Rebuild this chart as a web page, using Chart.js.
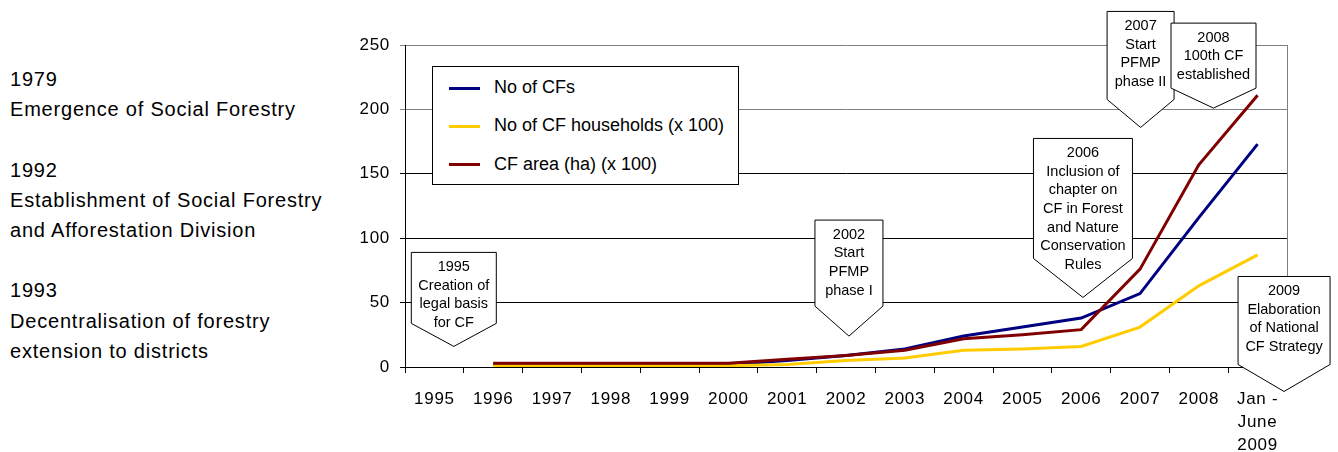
<!DOCTYPE html>
<html lang="en">
<head>
    <meta charset="UTF-8">
    <title>Community Forestry development</title>
    <script src="https://cdn.jsdelivr.net/npm/chart.js"></script>
    <style>
        body {
            margin: 0;
            width: 1338px;
            height: 452px;
            position: relative;
            background: #fff;
            font-family: "Liberation Sans", Arial, sans-serif;
            color: #000;
            overflow: hidden;
        }
        #chart {
            position: absolute;
            left: 0;
            top: 0;
        }
        #history {
            position: absolute;
            left: 10px;
            top: 64px;
            font-size: 20px;
            line-height: 30.2px;
            letter-spacing: 0.8px;
        }
        #legend {
            position: absolute;
            left: 432px;
            top: 66px;
            width: 305px;
            height: 116px;
            border: 1px solid #000;
            background: #fff;
            padding-top: 1px;
            font-size: 18px;
        }
        #legend .row {
            height: 38.3px;
            line-height: 38.3px;
            white-space: nowrap;
        }
        #legend .swatch {
            display: inline-block;
            width: 31px;
            height: 3px;
            margin-left: 16px;
            margin-right: 14px;
            vertical-align: middle;
        }
    </style>
</head>
<body>
    <div id="history">
        1979<br>Emergence of Social Forestry<br><br>
        1992<br>Establishment of Social Forestry<br>and Afforestation Division<br><br>
        1993<br>Decentralisation of forestry<br>extension to districts
    </div>
    <canvas id="chart" width="1338" height="452"></canvas>
    <div id="legend"></div>

    <script>
        // data
        const yearLabels = ['1995', '1996', '1997', '1998', '1999', '2000', '2001', '2002',
            '2003', '2004', '2005', '2006', '2007', '2008', ['Jan -', 'June', '2009']];
        const cfCount      = [null, 2, 2, 2, 2, 2, 5, 9, 14, 24, 31, 38, 57, 116, 173];
        const cfHouseholds = [null, 1, 1, 1, 1, 1, 2, 5, 7, 13, 14, 16, 31, 63, 87];
        const cfArea       = [null, 3, 3, 3, 3, 3, 6, 9, 13, 22, 25, 29, 76, 157, 211];

        const seriesNames  = ['No of CFs', 'No of CF households (x 100)', 'CF area (ha) (x 100)'];
        const seriesColors = ['#000080', '#FFCC00', '#800000'];

        const yMin = 0, yMax = 250, yStep = 50;

        // event callouts: x = category index, y = value where the arrow points
        const callouts = [
            { x: 0.33, y: 16, w: 85, h: 71, arrow: 23, lines: ['1995', 'Creation of', 'legal basis', 'for CF'] },
            { x: 7.05, y: 24, w: 68, h: 86, arrow: 30, lines: ['2002', 'Start', 'PFMP', 'phase I'] },
            { x: 11.03, y: 54, w: 99, h: 120, arrow: 39, lines: ['2006', 'Inclusion of', 'chapter on', 'CF in Forest', 'and Nature', 'Conservation', 'Rules'] },
            { x: 12.01, y: 186, w: 67, h: 88, arrow: 28, lines: ['2007', 'Start', 'PFMP', 'phase II'] },
            { x: 13.25, y: 201, w: 85, h: 65, arrow: 20, lines: ['2008', '100th CF', 'established'] },
            { x: 14.45, y: -19, w: 92, h: 88, arrow: 27, lines: ['2009', 'Elaboration', 'of National', 'CF Strategy'] },
        ];

        // legend box
        const legend = document.getElementById('legend');
        seriesNames.forEach((name, i) => {
            const row = document.createElement('div');
            row.className = 'row';
            row.innerHTML = `<span class="swatch" style="background:${seriesColors[i]}"></span>${name}`;
            legend.appendChild(row);
        });

        const spacingPlugin = {
            id: 'spacing',
            beforeDraw(chart) {
                chart.ctx.letterSpacing = '0.7px';
            }
        };

        const calloutPlugin = {
            id: 'callouts',
            afterDatasetsDraw(chart) {
                const { ctx, chartArea, scales: { x, y } } = chart;
                ctx.save();
                // right frame line
                ctx.strokeStyle = '#808080';
                ctx.lineWidth = 1;
                ctx.beginPath();
                ctx.moveTo(Math.round(chartArea.right) + 0.5, chartArea.top);
                ctx.lineTo(Math.round(chartArea.right) + 0.5, chartArea.bottom);
                ctx.stroke();

                ctx.font = '14.5px "Liberation Sans", Arial, sans-serif';
                ctx.letterSpacing = '0px';
                ctx.textAlign = 'center';
                ctx.textBaseline = 'middle';
                callouts.forEach(c => {
                    const tx = x.getPixelForValue(c.x);
                    const ty = y.getPixelForValue(c.y);
                    const left = tx - c.w / 2, right = tx + c.w / 2;
                    const shoulder = ty - c.arrow;
                    const top = shoulder - c.h;
                    ctx.beginPath();
                    ctx.moveTo(left, top);
                    ctx.lineTo(right, top);
                    ctx.lineTo(right, shoulder);
                    ctx.lineTo(tx, ty);
                    ctx.lineTo(left, shoulder);
                    ctx.closePath();
                    ctx.fillStyle = '#fff';
                    ctx.fill();
                    ctx.strokeStyle = '#000';
                    ctx.lineWidth = 1;
                    ctx.stroke();
                    ctx.fillStyle = '#000';
                    c.lines.forEach((t, i) => ctx.fillText(t, tx, top + 14.5 + i * 18.7));
                });
                ctx.restore();
            }
        };

        const chart = new Chart(document.getElementById('chart'), {
            type: 'line',
            data: {
                labels: yearLabels,
                datasets: [
                    { label: seriesNames[0], data: cfCount, borderColor: seriesColors[0], order: 3 },
                    { label: seriesNames[1], data: cfHouseholds, borderColor: seriesColors[1], order: 2 },
                    { label: seriesNames[2], data: cfArea, borderColor: seriesColors[2], order: 1 },
                ],
            },
            options: {
                responsive: false,
                animation: false,
                devicePixelRatio: 1,
                layout: { padding: { top: 45, right: 51, left: 0, bottom: 0 } },
                elements: {
                    line: { borderWidth: 3, tension: 0 },
                    point: { radius: 0 },
                },
                plugins: {
                    legend: { display: false },
                    tooltip: { enabled: false },
                },
                scales: {
                    x: {
                        offset: true,
                        afterFit: s => { s.height = 85; },
                        border: { display: true, color: '#000', width: 1 },
                        grid: { offset: true, drawOnChartArea: false, drawTicks: true, tickLength: 6, color: '#000' },
                        ticks: {
                            autoSkip: false,
                            maxRotation: 0,
                            padding: 14.5,
                            color: '#000',
                            font: { family: '"Liberation Sans", Arial, sans-serif', size: 17, lineHeight: '23px' },
                        },
                    },
                    y: {
                        min: yMin,
                        max: yMax,
                        afterFit: s => { s.width = 405; },
                        border: { display: true, color: '#000', width: 1 },
                        grid: {
                            tickLength: 5,
                            color: ctx => (ctx.tick && ctx.tick.value >= 200 ? '#808080' : '#000'),
                        },
                        ticks: {
                            stepSize: yStep,
                            padding: 10,
                            color: '#000',
                            font: { family: '"Liberation Sans", Arial, sans-serif', size: 17 },
                        },
                    },
                },
            },
            plugins: [spacingPlugin, calloutPlugin],
        });
    </script>
</body>
</html>
